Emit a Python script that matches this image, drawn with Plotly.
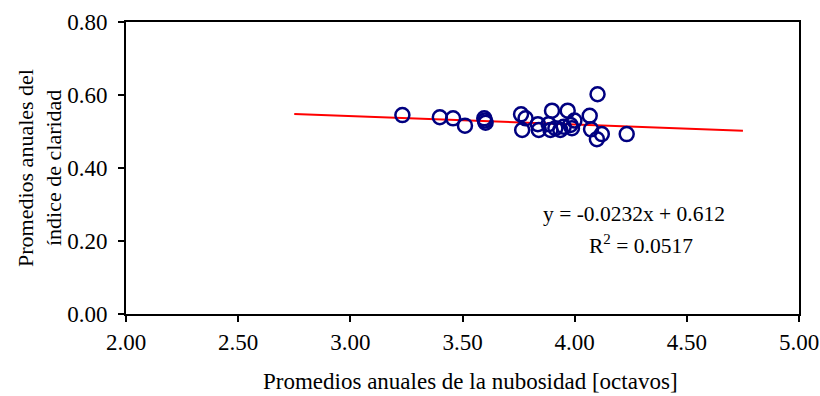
import numpy as np
import plotly.graph_objects as go

# Data
nubosidad = [3.232, 3.399, 3.458, 3.511, 3.597, 3.600, 3.603, 3.761, 3.781, 3.766,
             3.836, 3.840, 3.899, 3.884, 3.892, 3.914, 3.936, 3.951, 3.969, 3.981,
             3.988, 3.999, 4.067, 4.073, 4.102, 4.099, 4.121, 4.232]
claridad = [0.545, 0.539, 0.536, 0.516, 0.536, 0.530, 0.524, 0.547, 0.536, 0.504,
            0.520, 0.504, 0.557, 0.520, 0.504, 0.509, 0.504, 0.513, 0.557, 0.518,
            0.509, 0.530, 0.543, 0.506, 0.602, 0.479, 0.493, 0.493]

slope = -0.0232
intercept = 0.612
r2 = 0.0517
trend_range = [2.75, 4.75]

x_ticks = [2.0, 2.5, 3.0, 3.5, 4.0, 4.5, 5.0]
y_ticks = [0.0, 0.2, 0.4, 0.6, 0.8]

x_title = "Promedios anuales de la nubosidad [octavos]"
y_title_lines = ["Promedios anuales del", "índice de claridad"]

tx = np.array(trend_range)
ty = slope * tx + intercept

FONT = "Liberation Serif"
W, H = 820, 396
L, R, T, B = 126, 21, 22, 82
PW, PH = W - L - R, H - T - B


def px_x(p):
    return (p - L) / PW


def px_y(p):
    return (H - B - p) / PH


fig = go.Figure()
fig.add_trace(go.Scatter(
    x=tx, y=ty, mode="lines",
    line=dict(color="#FF0000", width=2), showlegend=False, hoverinfo="skip"))
fig.add_trace(go.Scatter(
    x=nubosidad, y=claridad, mode="markers",
    marker=dict(symbol="circle-open", size=14, color="#000080",
                line=dict(width=2.5, color="#000080")),
    showlegend=False))

# regression text
fig.add_annotation(x=px_x(634), y=px_y(214), xref="paper", yref="paper",
                   text=f"y = {slope:.4f}x + {intercept:.3f}", showarrow=False,
                   xanchor="center", yanchor="middle",
                   font=dict(family=FONT, size=21.5, color="black"))
fig.add_annotation(x=px_x(641), y=px_y(244), xref="paper", yref="paper",
                   text=f"R<sup>2</sup> = {r2}", showarrow=False,
                   xanchor="center", yanchor="middle",
                   font=dict(family=FONT, size=21.5, color="black"))

# axis titles
fig.add_annotation(x=px_x(471), y=px_y(381), xref="paper", yref="paper",
                   text=x_title, showarrow=False, xanchor="center", yanchor="middle",
                   font=dict(family=FONT, size=23, color="black"))
for line, cx in zip(y_title_lines, [25, 53]):
    fig.add_annotation(x=px_x(cx), y=px_y(168), xref="paper", yref="paper",
                       text=line, showarrow=False, textangle=-90,
                       xanchor="center", yanchor="middle",
                       font=dict(family=FONT, size=22, color="black"))

axis_common = dict(showgrid=False, zeroline=False, showline=True, linecolor="black",
                   linewidth=2, mirror=True, ticks="outside", ticklen=6, tickwidth=1.5,
                   tickcolor="black", automargin=False,
                   tickfont=dict(family=FONT, size=23, color="black"))

fig.update_xaxes(range=[2.0, 5.0], tickvals=x_ticks,
                 ticktext=[f"{v:.2f}" for v in x_ticks], **axis_common)
fig.update_yaxes(range=[0.0, 0.8], tickvals=y_ticks,
                 ticktext=[f"{v:.2f}" for v in y_ticks], ticklabelstandoff=6,
                 **axis_common)

fig.update_layout(width=W, height=H, plot_bgcolor="white", paper_bgcolor="white",
                  font=dict(family=FONT, size=23, color="black"),
                  margin=dict(l=L, r=R, t=T, b=B, autoexpand=False))

fig.write_html("out.html")
